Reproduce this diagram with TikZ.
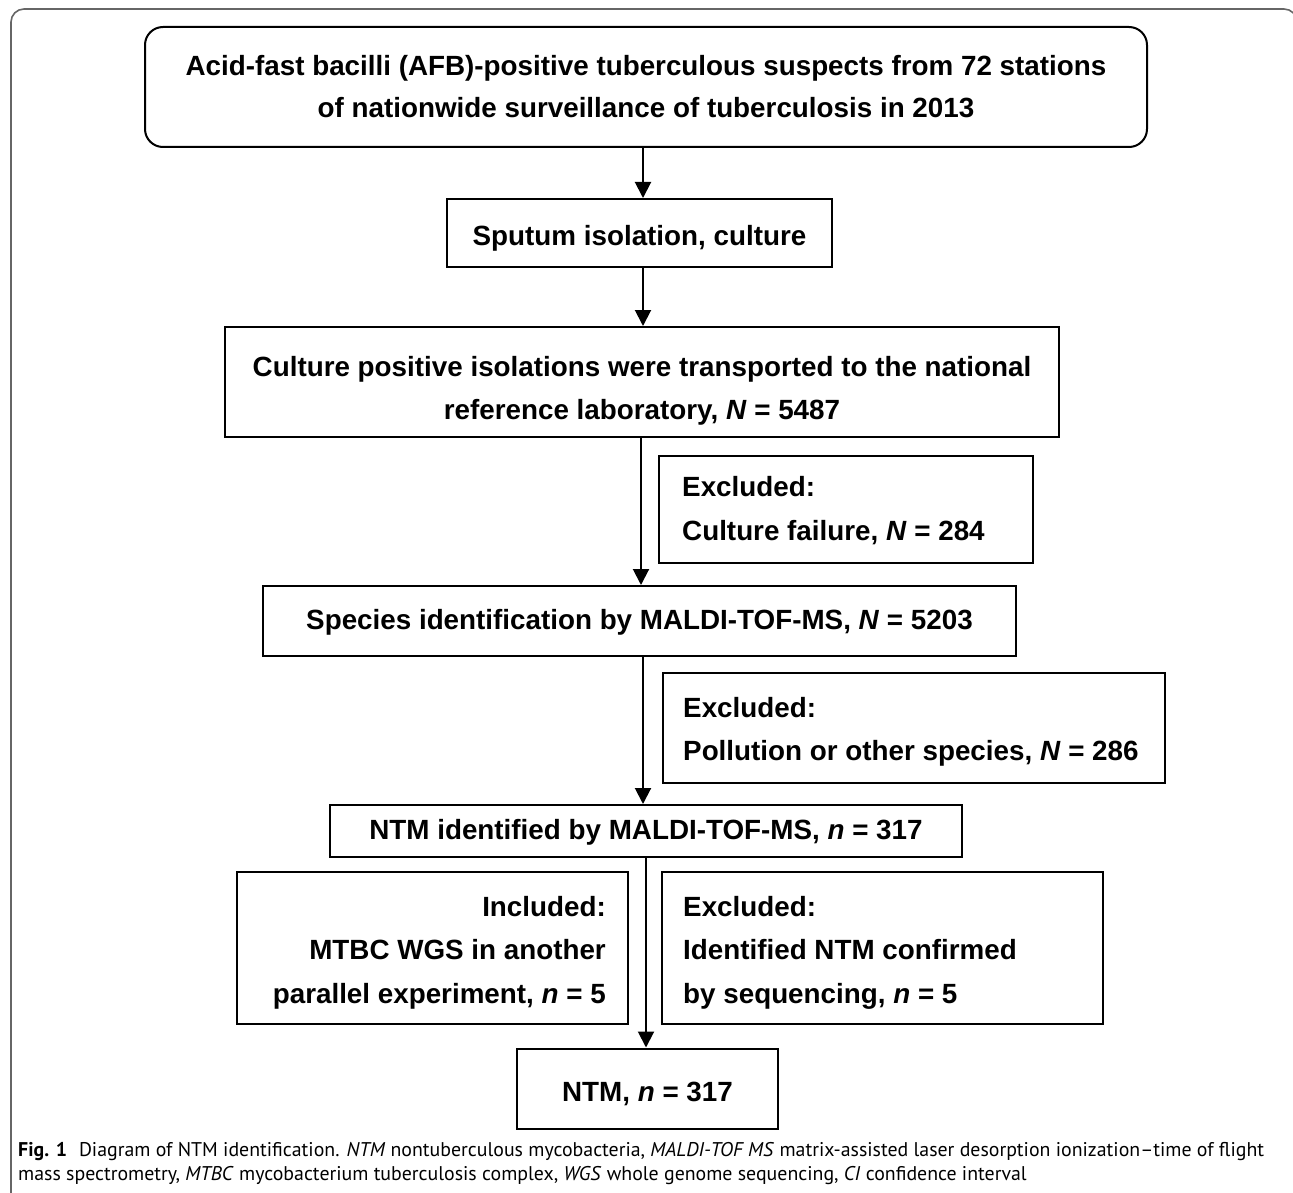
\documentclass[tikz,border=0pt]{standalone}
\usepackage{fontspec}
\setmainfont{Liberation Sans}
\newfontfamily\capfont{PT Sans}
\usetikzlibrary{arrows.meta}
\newcommand{\linesC}[2]{\fontsize{27.8}{#1}\selectfont\bfseries\begin{tabular}[t]{@{}c@{}}#2\end{tabular}}
\newcommand{\linesL}[2]{\fontsize{27.8}{#1}\selectfont\bfseries\begin{tabular}[t]{@{}l@{}}#2\end{tabular}}
\newcommand{\linesR}[2]{\fontsize{27.8}{#1}\selectfont\bfseries\begin{tabular}[t]{@{}r@{}}#2\end{tabular}}
\begin{document}
\begin{tikzpicture}[x=1pt,y=-1pt,
  box/.style={draw=black, line width=2pt, inner sep=0pt},
  txt/.style={inner sep=0pt, anchor=base},
  ltxt/.style={inner sep=0pt, anchor=base west},
  rtxt/.style={inner sep=0pt, anchor=base east},
  arr/.style={line width=2pt, -{Triangle[length=16pt,width=16pt]}},
  capt/.style={anchor=base west, inner sep=0pt, font=\capfont\fontsize{19.85}{24}\selectfont}]
\useasboundingbox (0,0) rectangle (1293,1193);
\clip (0,0) rectangle (1293,1193);
\draw[black!60, line width=1.6pt, rounded corners=13pt] (11,1250) -- (11,9) -- (1297,9) -- (1297,1250);

% boxes
\node[box, rounded corners=18pt, minimum width=1002pt, minimum height=120pt] (top) at (646,87) {};
\node[box, minimum width=385pt, minimum height=68pt] (spu) at (639.5,233) {};
\node[box, minimum width=834pt, minimum height=110pt] (cul) at (642,382) {};
\node[box, minimum width=374pt, minimum height=107pt] (ex1) at (846,509.5) {};
\node[box, minimum width=753pt, minimum height=70pt] (spe) at (639.5,621) {};
\node[box, minimum width=502pt, minimum height=110pt] (ex2) at (914,728) {};
\node[box, minimum width=632pt, minimum height=52pt] (ntmid) at (646,831) {};
\node[box, minimum width=391pt, minimum height=152pt] (inc) at (432.5,948) {};
\node[box, minimum width=441pt, minimum height=152pt] (ex3) at (882.5,948) {};
\node[box, minimum width=261pt, minimum height=80pt] (ntm) at (647.5,1088.5) {};

% texts
\node[txt] (topT) at (646,76) {\linesC{42}{Acid-fast bacilli (AFB)-positive tuberculous suspects from 72 stations\\of nationwide surveillance of tuberculosis in 2013}};
\node[txt] (spuT) at (639.5,246) {\linesC{43}{Sputum isolation, culture}};
\node[txt] (culT) at (642,376) {\linesC{43}{Culture positive isolations were transported to the national\\reference laboratory, \textit{N} = 5487}};
\node[ltxt] (ex1T) at (682,496) {\linesL{44}{Excluded:\\Culture failure, \textit{N} = 284}};
\node[txt] (speT) at (639.5,629) {\linesC{43}{Species identification by MALDI-TOF-MS, \textit{N} = 5203}};
\node[ltxt] (ex2T) at (683,717) {\linesL{43}{Excluded:\\Pollution or other species, \textit{N} = 286}};
\node[txt] (ntmidT) at (646,839) {\linesC{43}{NTM identified by MALDI-TOF-MS, \textit{n} = 317}};
\node[rtxt] (incT) at (606,916) {\linesR{43.5}{Included:\\MTBC WGS in another\\parallel experiment, \textit{n} = 5}};
\node[ltxt] (ex3T) at (683,916) {\linesL{43.5}{Excluded:\\Identified NTM confirmed\\by sequencing, \textit{n} = 5}};
\node[txt] (ntmT) at (647.5,1101) {\linesC{43}{NTM, \textit{n} = 317}};

% arrows
\coordinate (a1) at (643,0);
\coordinate (a2) at (643,0);
\coordinate (a3) at (641,0);
\coordinate (a4) at (643,0);
\coordinate (a5) at (646,0);
\draw[arr] (top.south -| a1) -- (spu.north -| a1);
\draw[arr] (spu.south -| a2) -- (cul.north -| a2);
\draw[arr] (cul.south -| a3) -- (spe.north -| a3);
\draw[arr] (spe.south -| a4) -- (ntmid.north -| a4);
\draw[arr] (ntmid.south -| a5) -- (ntm.north -| a5);

% caption
\node[capt] (cap1) at (18,1156) {\textbf{Fig. 1}\hspace{0.6em}Diagram of NTM identification. \textit{NTM} nontuberculous mycobacteria, \textit{MALDI-TOF MS} matrix-assisted laser desorption ionization–time of flight};
\node[capt] (cap2) at (18,1180) {mass spectrometry, \textit{MTBC} mycobacterium tuberculosis complex, \textit{WGS} whole genome sequencing, \textit{CI} confidence interval};
\end{tikzpicture}
\end{document}
